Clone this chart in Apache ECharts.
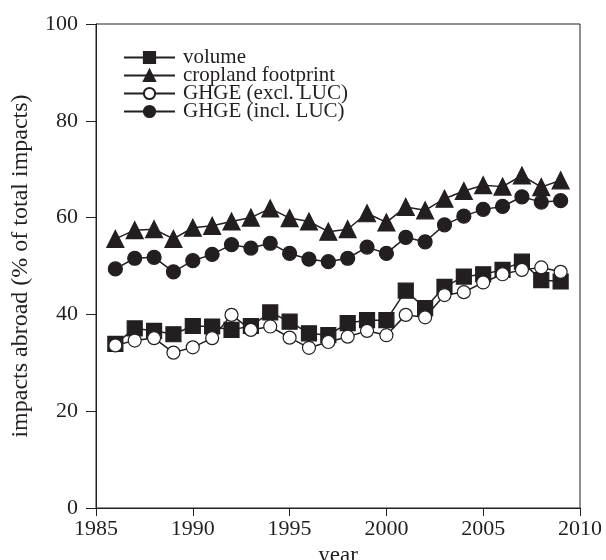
<!DOCTYPE html>
<html>
<head>
<meta charset="utf-8">
<script src="https://cdn.jsdelivr.net/npm/echarts@6/dist/echarts.min.js"></script>
<style>
    html, body { margin: 0; padding: 0; background: #fff; }
    #chart { width: 606px; height: 560px; }
</style>
</head>
<body>
<div id="chart"></div>
<script>
    var years = [1986, 1987, 1988, 1989, 1990, 1991, 1992, 1993, 1994, 1995, 1996, 1997,
                 1998, 1999, 2000, 2001, 2002, 2003, 2004, 2005, 2006, 2007, 2008, 2009];
    var volume = [33.9, 37.1, 36.6, 35.9, 37.6, 37.5, 36.8, 37.6, 40.4, 38.5, 36.1, 35.7,
                  38.2, 38.8, 38.8, 44.9, 41.3, 45.7, 47.8, 48.3, 49.2, 50.9, 47.1, 46.8];
    var cropland = [55.6, 57.4, 57.6, 55.6, 57.9, 58.3, 59.2, 60.0, 61.9, 59.9, 59.2, 57.1,
                    57.6, 60.9, 59.0, 62.2, 61.5, 63.9, 65.5, 66.7, 66.4, 68.7, 66.3, 67.7];
    var ghgeExcl = [33.6, 34.6, 35.1, 32.1, 33.2, 35.1, 39.9, 36.8, 37.5, 35.2, 33.1, 34.3,
                    35.4, 36.6, 35.7, 39.9, 39.4, 44.0, 44.6, 46.6, 48.3, 49.2, 49.7, 48.8];
    var ghgeIncl = [49.4, 51.6, 51.8, 48.8, 51.1, 52.4, 54.4, 53.7, 54.7, 52.6, 51.4, 50.9,
                    51.6, 53.9, 52.6, 55.9, 55.0, 58.5, 60.3, 61.7, 62.3, 64.3, 63.2, 63.5];
    var names = ['volume', 'cropland footprint', 'GHGE (excl. LUC)', 'GHGE (incl. LUC)'];

    var ink = '#231f20';
    var font = '"Liberation Serif", "DejaVu Serif", serif';

    function pairs(vals){
        return years.map(function(y, i){ return [y, vals[i]]; });
    }

    function makeSeries(name, vals, symbol, size, fill){
        return {
            name: name,
            type: 'line',
            data: pairs(vals),
            symbol: symbol,
            symbolSize: size,
            showAllSymbol: true,
            lineStyle: { color: ink, width: 1.5 },
            itemStyle: { color: fill, borderColor: ink, borderWidth: 1.2 },
            emphasis: { disabled: true },
            animation: false
        };
    }

    var myChart = echarts.init(document.getElementById('chart'));
    var option = {
        animation: false,
        textStyle: { fontFamily: font },
        grid: {
            left: 96, right: 26, top: 24, bottom: 52,
            containLabel: false,
            outerBoundsMode: 'none',
            show: true, borderColor: ink, borderWidth: 1
        },
        legend: {
            orient: 'vertical',
            left: 118, top: 42,
            itemWidth: 51, itemHeight: 14, itemGap: -3,
            data: names,
            textStyle: { fontFamily: font, fontSize: 21, color: ink, padding: [0, 0, 0, 3] }
        },
        xAxis: {
            type: 'value',
            min: 1985, max: 2010, interval: 5,
            name: 'year',
            nameLocation: 'middle',
            nameGap: 25,
            nameTextStyle: { fontFamily: font, fontSize: 23, color: ink },
            axisLine: { lineStyle: { color: ink, width: 1 } },
            axisTick: { show: true, length: 8, lineStyle: { color: ink } },
            axisLabel: {
                fontFamily: font, fontSize: 22, color: ink, margin: 10,
                formatter: function(v){ return String(v); }
            },
            splitLine: { show: false }
        },
        yAxis: {
            type: 'value',
            min: 0, max: 100, interval: 20,
            name: 'impacts abroad (% of total impacts)',
            nameLocation: 'middle',
            nameGap: 63,
            nameTextStyle: { fontFamily: font, fontSize: 24, color: ink },
            axisLine: { show: true, lineStyle: { color: ink, width: 1 } },
            axisTick: { show: true, length: 10, lineStyle: { color: ink } },
            axisLabel: { fontFamily: font, fontSize: 22, color: ink, margin: 18 },
            splitLine: { show: false }
        },
        series: [
            makeSeries(names[0], volume, 'rect', 15, ink),
            makeSeries(names[1], cropland, 'triangle', 17, ink),
            makeSeries(names[2], ghgeExcl, 'circle', 13, '#fff'),
            makeSeries(names[3], ghgeIncl, 'circle', 14, ink)
        ]
    };
    myChart.setOption(option);
</script>
</body>
</html>
